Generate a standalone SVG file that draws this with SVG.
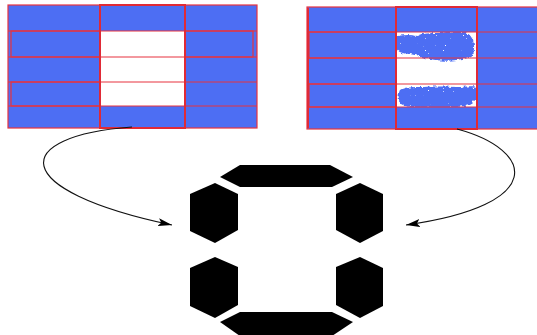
<svg xmlns="http://www.w3.org/2000/svg" width="537" height="335" viewBox="0 0 537 335">
  <defs>
    <style>
      .cell { fill: #4d6ef3; }
      .blank { fill: #ffffff; }
      .grid { fill: none; stroke: #e8333f; stroke-width: 1.2; }
      .gridb { fill: none; stroke: #e02a36; stroke-width: 2; }
      .seg { fill: #000000; }
      .conn { fill: none; stroke: #111111; stroke-width: 1.1; }
      .blob { fill: #4d6ef3; }
    </style>
    <marker id="arrow" viewBox="0 0 14 8" refX="14" refY="4" markerWidth="14" markerHeight="8" markerUnits="userSpaceOnUse" orient="auto">
      <path d="M0,0 L14,4 L0,8 L3,4 Z" fill="#000"/>
    </marker>
    <!-- ragged edges plus a few small holes for the noisy fill -->
    <filter id="rough" x="-10%" y="-40%" width="120%" height="180%">
      <feTurbulence type="fractalNoise" baseFrequency="0.3" numOctaves="2" seed="4" result="n"/>
      <feDisplacementMap in="SourceGraphic" in2="n" scale="5" xChannelSelector="R" yChannelSelector="G" result="d"/>
      <feTurbulence type="fractalNoise" baseFrequency="0.6" numOctaves="1" seed="9" result="s"/>
      <feColorMatrix in="s" type="matrix" values="0 0 0 0 0  0 0 0 0 0  0 0 0 0 0  0 0 0 20 -14.6" result="holes"/>
      <feComposite in="d" in2="holes" operator="out"/>
    </filter>
  </defs>

  <!-- left grid: empty cell pattern -->
  <g id="grid-left">
    <rect class="cell" x="8" y="5" width="249" height="123"/>
    <rect class="blank" x="100" y="31" width="85" height="75"/>
    <rect class="grid" x="8" y="5" width="249" height="123"/>
    <line class="grid" x1="8" y1="31" x2="257" y2="31"/>
    <line class="grid" x1="8" y1="57" x2="257" y2="57"/>
    <line class="grid" x1="8" y1="82" x2="257" y2="82"/>
    <line class="grid" x1="8" y1="106" x2="257" y2="106"/>
    <rect class="grid" x="11" y="31" width="89" height="26"/>
    <rect class="grid" x="185" y="31" width="68" height="26"/>
    <rect class="grid" x="11" y="82" width="89" height="24"/>
    <rect class="gridb" x="100" y="5" width="85" height="123"/>
  </g>

  <!-- right grid: cells with noisy fill -->
  <g id="grid-right">
    <rect class="cell" x="307" y="7" width="232" height="122"/>
    <rect class="blank" x="396" y="32" width="81" height="75"/>
    <g filter="url(#rough)">
      <path class="blob" d="M396,38 C400,34 410,35 418,36 C422,33 432,33 440,33 C448,31 462,31 468,33 C475,37 475,48 473,55 C469,59 462,59 456,60 C448,61 438,61 430,59 C422,58 416,55 410,54 C402,54 396,51 395,46 Z"/>
      <path class="blob" d="M400,90 C404,87 414,87 424,87 C436,86 450,87 462,87 C470,86 477,86 478,88 L477,97 C475,103 466,107 456,107 C446,108 434,107 424,108 C414,108 406,107 401,104 C398,100 398,94 400,90 Z"/>
    </g>
    <rect class="grid" x="307" y="7" width="232" height="122"/>
    <line class="grid" x1="307" y1="32" x2="537" y2="32"/>
    <line class="grid" x1="307" y1="58" x2="537" y2="58"/>
    <line class="grid" x1="307" y1="84" x2="537" y2="84"/>
    <line class="grid" x1="307" y1="107" x2="537" y2="107"/>
    <rect class="grid" x="309" y="32" width="87" height="26"/>
    <rect class="grid" x="309" y="84" width="87" height="23"/>
    <line class="gridb" x1="308" y1="8" x2="308" y2="128"/>
    <rect class="gridb" x="396" y="7" width="81" height="122"/>
  </g>

  <!-- seven-segment display -->
  <g id="display">
    <polygon class="seg" points="240,165 330,165 353,177 332,187 240,187 220,177"/>
    <polygon class="seg" points="215,183 238,194 238,230 215,243 190,231 190,194"/>
    <polygon class="seg" points="360,183 383,194 383,231 360,243 336,230 336,194"/>
    <polygon class="seg" points="215,257 238,267 238,305 215,318 190,306 190,268"/>
    <polygon class="seg" points="360,257 383,268 383,306 360,318 336,305 336,267"/>
    <polygon class="seg" points="240,312 332,312 353,322 332,336 240,336 220,322"/>
  </g>

  <!-- connectors -->
  <g id="connectors">
    <path class="conn" d="M132,127 C10,136 6,190 172,225" marker-end="url(#arrow)"/>
    <path class="conn" d="M457,129 C535,150 548,205 406,225" marker-end="url(#arrow)"/>
  </g>
</svg>
